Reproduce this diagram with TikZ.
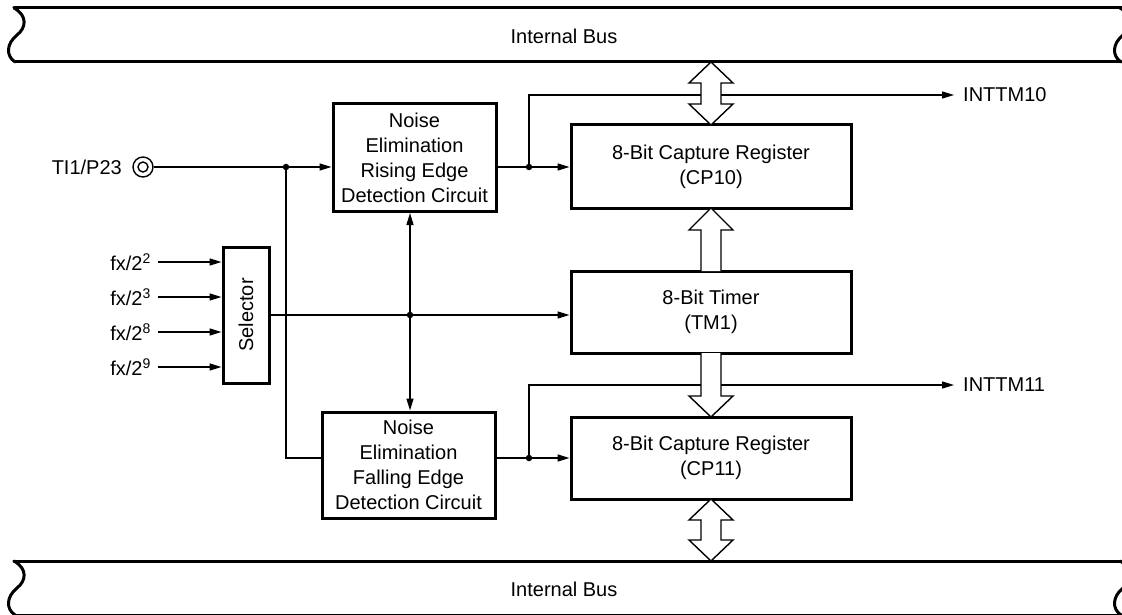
\documentclass[tikz,border=0pt]{standalone}
\usepackage{fontspec}
\setmainfont{Liberation Sans}
\usetikzlibrary{arrows.meta}
\begin{document}
\begin{tikzpicture}[x=1pt,y=-1pt,
  every node/.style={font=\fontsize{20}{25}\selectfont},
  box/.style={draw, line width=3pt, fill=white, align=center, inner sep=0pt},
  conn/.style={line width=1.4pt},
  tip/.tip={Triangle[length=12pt,width=7pt]},
  arr/.style={conn, -tip},
  fat/.style={draw, line width=1.4pt, fill=white, line join=miter},
  dot/.style={circle, fill, inner sep=0pt, minimum size=6.5pt},
  bus/.style={line width=3pt, line join=round, line cap=round}]
\useasboundingbox (0,0) rectangle (1122,615);
\clip (0,0) rectangle (1122,615);
\fill[white] (0,0) rectangle (1122,615);

% buses
\foreach \yy in {0,553} {
  \begin{scope}[yshift=-\yy pt]
    \draw[bus] (14,8) -- (1124,8);
    \draw[bus] (15,62) -- (1121,62);
    \draw[bus] (14,8) .. controls (28,16) and (26,28) .. (17,35) .. controls (6,44) and (6,56) .. (15,62);
    \draw[bus] (1120,8) .. controls (1134,16) and (1132,28) .. (1123,35) .. controls (1112,44) and (1112,56) .. (1121,62);
  \end{scope}
}
\node (bustop) at (564,36) {Internal Bus};
\node (busbot) at (564,589) {Internal Bus};

% boxes
\node[box, minimum width=163pt, minimum height=108pt] (rise) at (414.5,157.5)
  {Noise\\Elimination\\Rising Edge\\Detection Circuit};
\node[box, minimum width=173pt, minimum height=106pt] (fall) at (408.5,465)
  {Noise\\Elimination\\Falling Edge\\Detection Circuit};
\node[box, minimum width=280pt, minimum height=83pt] (cp10) at (711,166.5)
  {8-Bit Capture Register\\(CP10)};
\node[box, minimum width=280pt, minimum height=82pt] (tm1) at (711,312)
  {8-Bit Timer\\(TM1)};
\node[box, minimum width=280pt, minimum height=82pt] (cp11) at (711,458)
  {8-Bit Capture Register\\(CP11)};
\node[box, minimum width=46pt, minimum height=136pt] (sel) at (246,315)
  {\rotatebox{90}{Selector}};

% TI1 input
\node[anchor=east, inner sep=0pt] (tilab) at (122,167) {TI1/P23};
\node[circle, draw, line width=1.4pt, minimum size=20pt, inner sep=0pt] (ti) at (143,167) {};
\node[circle, draw, line width=1.4pt, minimum size=10pt, inner sep=0pt] (tiin) at (143,167) {};
\node[dot] (d1) at (286,167) {};
\draw[arr] (ti.east) -- (rise.west |- ti);
\draw[conn] (d1.center) |- (fall.west |- 0,458);

% selector inputs
\node[anchor=east, inner sep=0pt] (fx1) at (151,262) {fx/2\textsuperscript{2}};
\node[anchor=east, inner sep=0pt] (fx2) at (151,297) {fx/2\textsuperscript{3}};
\node[anchor=east, inner sep=0pt] (fx3) at (151,332) {fx/2\textsuperscript{8}};
\node[anchor=east, inner sep=0pt] (fx4) at (151,367) {fx/2\textsuperscript{9}};
\foreach \n in {fx1,fx2,fx3,fx4} {
  \draw[arr, shorten <=7pt] (\n.east) -- (sel.west |- \n.east);
}

% selector output
\node[dot] (d2) at (410,315) {};
\draw[arr] (sel.east) -- (tm1.west |- sel.east);
\draw[conn, tip-tip] (rise.south -| d2) -- (fall.north -| d2);

% rising output
\node[dot] (d3) at (529,167) {};
\draw[arr] (rise.east |- d3) -- (cp10.west |- d3);
\node[anchor=west, inner xsep=9pt, inner ysep=0pt] (int10) at (954,95) {INTTM10};
\draw[arr] (d3.center) |- (int10.west);

% falling output
\node[dot] (d4) at (529,458) {};
\draw[arr] (fall.east |- d4) -- (cp11.west |- d4);
\node[anchor=west, inner xsep=9pt, inner ysep=0pt] (int11) at (954,385) {INTTM11};
\draw[arr] (d4.center) |- (int11.west);

% fat arrows
\path[fat] (711,62) -- (733,83) -- (721,83) -- (721,104) -- (733,104) -- (711,125)
  -- (689,104) -- (701,104) -- (701,83) -- (689,83) -- cycle;
\path[fat] (701,271) -- (701,230) -- (689,230) -- (711,208) -- (733,230) -- (721,230) -- (721,271);
\path[fat] (701,353) -- (701,396) -- (689,396) -- (711,417) -- (733,396) -- (721,396) -- (721,353);
\path[fat] (711,499) -- (733,520) -- (721,520) -- (721,540) -- (733,540) -- (711,561)
  -- (689,540) -- (701,540) -- (701,520) -- (689,520) -- cycle;
\end{tikzpicture}
\end{document}
